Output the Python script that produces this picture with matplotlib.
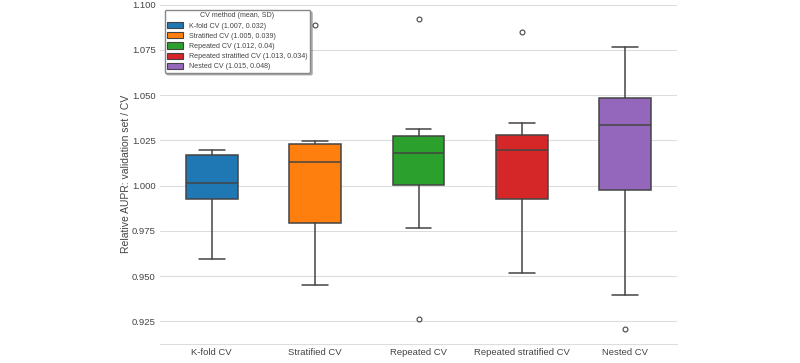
import matplotlib
matplotlib.use("Agg")
import matplotlib.pyplot as plt
import seaborn as sns
from matplotlib.patches import Patch

# valores (estatísticas das caixas)
metodos = ["K-fold CV", "Stratified CV", "Repeated CV", "Repeated stratified CV", "Nested CV"]
legenda = ["K-fold CV (1.007, 0.032)", "Stratified CV (1.005, 0.039)", "Repeated CV (1.012, 0.04)",
           "Repeated stratified CV (1.013, 0.034)", "Nested CV (1.015, 0.048)"]
whislo = [0.9596, 0.9452, 0.9766, 0.9517, 0.9395]
q1 = [0.9928, 0.9794, 1.0006, 0.9928, 0.9974]
mediana = [1.0013, 1.0133, 1.0179, 1.0194, 1.0332]
q3 = [1.0171, 1.0229, 1.0273, 1.0282, 1.0485]
whishi = [1.0199, 1.0249, 1.0313, 1.0345, 1.0765]
outliers = [[], [1.0887], [1.0918, 0.9263], [1.0846], [0.9210]]
cores = ["#1f77b4", "#ff7f0e", "#2ca02c", "#d62728", "#9467bd"]

sns.set_style("whitegrid")
plt.rcParams['font.family'] = ['Liberation Sans', 'DejaVu Sans']

fig = plt.figure(figsize=(8, 3.63), dpi=100)
ax = fig.add_axes([160/800, 19/363, 517/800, 340/363])

stats = []
for i in range(len(metodos)):
    stats.append({"label": metodos[i], "whislo": whislo[i], "q1": q1[i], "med": mediana[i],
                  "q3": q3[i], "whishi": whishi[i], "fliers": outliers[i]})

linha = "#444444"
bp = ax.bxp(stats, positions=range(len(metodos)), widths=0.5, patch_artist=True,
            boxprops=dict(edgecolor=linha, linewidth=1.1),
            medianprops=dict(color=linha, linewidth=1.1),
            whiskerprops=dict(color=linha, linewidth=1.1),
            capprops=dict(color=linha, linewidth=1.1),
            flierprops=dict(marker="o", markersize=3.5, markerfacecolor="none",
                            markeredgecolor=linha, markeredgewidth=0.8))
for caixa, cor in zip(bp["boxes"], cores):
    caixa.set_facecolor(cor)

ax.set_xlim(-0.5, 4.5)
ax.set_ylim(0.9125, 1.1003)
ax.set_yticks([0.925, 0.950, 0.975, 1.000, 1.025, 1.050, 1.075, 1.100])
ax.yaxis.set_major_formatter(matplotlib.ticker.FormatStrFormatter("%.3f"))
ax.grid(axis="x", visible=False)
ax.grid(axis="y", color="#dddddd", linewidth=0.8)
ax.tick_params(labelsize=6.8, colors="#444444", length=0, pad=3)
ax.set_ylabel("Relative AUPR: validation set / CV", fontsize=7.5, color="#444444", labelpad=1)
for lado in ["left", "top", "right"]:
    ax.spines[lado].set_visible(False)
ax.spines["bottom"].set_color("#dddddd")

handles = [Patch(facecolor=c, edgecolor=linha, linewidth=0.8) for c in cores]
leg = ax.legend(handles, legenda, title="CV method (mean, SD)", loc="upper left",
                bbox_to_anchor=(0.002, 0.993), fontsize=5.1, title_fontsize=5.1,
                shadow={"alpha": 0.35, "ox": 1.5, "oy": -1.5},
                frameon=True, fancybox=True, handlelength=2.3, handleheight=0.95,
                labelspacing=0.38, borderpad=0.35)
leg.get_frame().set_edgecolor("#888888")
leg.get_frame().set_alpha(1)
plt.setp(leg.get_texts(), color="#444444")
leg.get_title().set_color("#444444")

fig.savefig("out.png", dpi=100)
